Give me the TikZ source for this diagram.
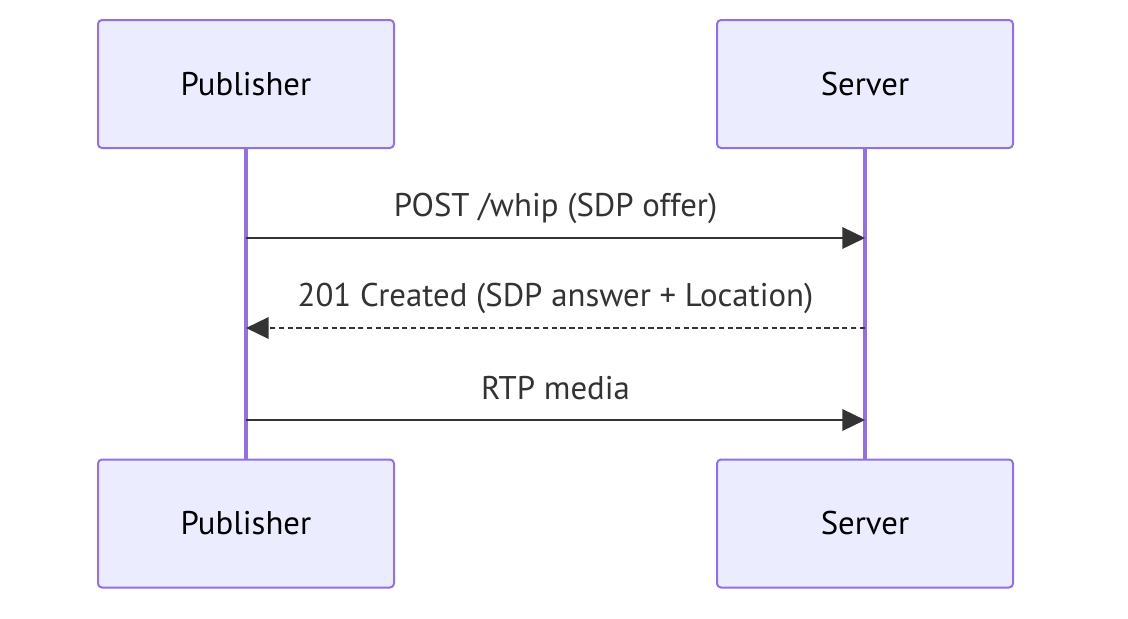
\documentclass[tikz,border=0pt]{standalone}
\usepackage{fontspec}
\setmainfont{PT Sans}
\usetikzlibrary{arrows.meta}
\definecolor{actorFill}{HTML}{ECECFF}
\definecolor{actorLine}{HTML}{9370DB}
\definecolor{msgCol}{HTML}{333333}

\begin{document}
\begin{tikzpicture}[x=0.75pt,y=-0.75pt,font=\fontsize{24.6}{29}\selectfont,
  actor/.style={draw=actorLine,fill=actorFill,line width=1.5pt,
    rounded corners=3pt,minimum width=222pt,minimum height=96pt,
    inner sep=0pt,text=black},
  lifeline/.style={draw=actorLine,line width=2.6pt},
  msg/.style={-{Triangle[length=17pt,width=16pt]},line width=1.9pt,draw=msgCol},
  reply/.style={msg,dash pattern=on 4pt off 2.6pt},
  msglabel/.style={text=msgCol,inner sep=0pt},
]
\useasboundingbox[fill=white] (0,0) rectangle (1128,618);

% actors, top and bottom
\node[actor] (pubTop) at (246,84) {Publisher};
\node[actor] (srvTop) at (865,84) {Server};
\node[actor] (pubBot) at (246,523.5) {Publisher};
\node[actor] (srvBot) at (865,523.5) {Server};

% lifelines
\draw[lifeline] (pubTop) -- (pubBot);
\draw[lifeline] (srvTop) -- (srvBot);

% message points on the lifelines
\coordinate (p1) at (246,238); \coordinate (s1) at (865,238);
\coordinate (p2) at (246,328); \coordinate (s2) at (865,328);
\coordinate (p3) at (246,420); \coordinate (s3) at (865,420);

\draw[msg] (p1) -- (s1);
\node[msglabel] (m1) at (555.5,208) {POST /whip (SDP offer)};

\draw[reply] (s2) -- (p2);
\node[msglabel] (m2) at (555.5,298) {201 Created (SDP answer + Location)};

\draw[msg] (p3) -- (s3);
\node[msglabel] (m3) at (555.5,388) {RTP media};

\end{tikzpicture}
\end{document}
